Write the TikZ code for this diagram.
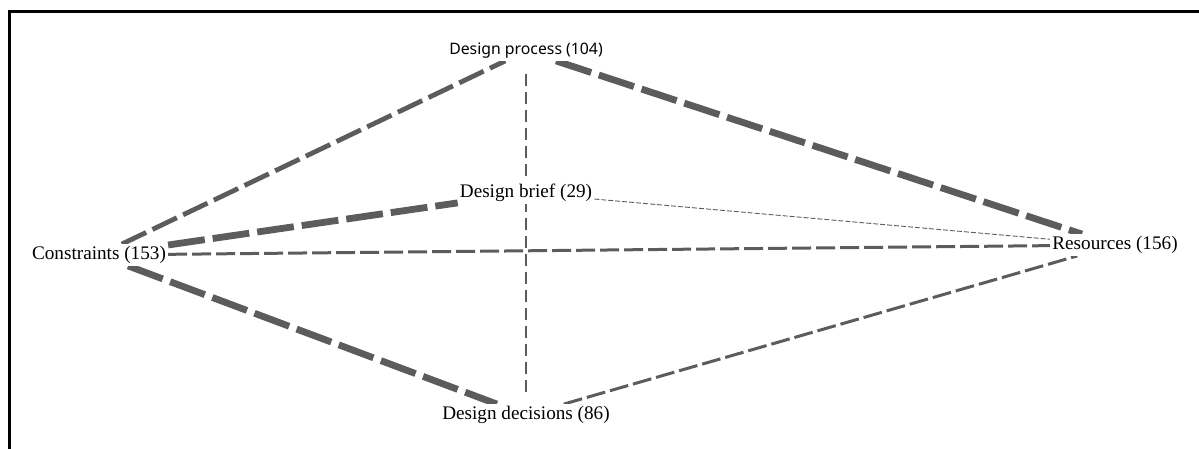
\documentclass[tikz,border=0pt]{standalone}
\usepackage{fontspec}
\setmainfont{Liberation Serif}
\newfontfamily\labelsans{Noto Sans}
\usetikzlibrary{backgrounds,calc}
\definecolor{edgegray}{RGB}{92,92,92}
\tikzset{
  term/.style={font=\fontsize{19.2}{22}\selectfont, inner sep=2pt, fill=white},
  termsans/.style={font=\labelsans\fontsize{15.8}{18}\selectfont, inner sep=2pt, fill=white},
  link/.style={draw=edgegray, line cap=butt},
  heavy/.style={link, line width=6.8pt, dash pattern=on 37pt off 8pt},
  strong/.style={link, line width=4.8pt, dash pattern=on 27pt off 7pt},
  medium/.style={link, line width=3pt, dash pattern=on 19pt off 5pt},
  light/.style={link, line width=1.5pt, dash pattern=on 12pt off 6pt},
  faint/.style={link, line width=0.9pt, dash pattern=on 5pt off 2pt},
}
\begin{document}
\begin{tikzpicture}[x=1pt, y=-1pt]
  \useasboundingbox (0,0) rectangle (1199,449);
  % frame
  \draw[line width=2.6pt, black] (9.7,449) -- (9.7,11.3) -- (1199,11.3);

  % terms
  \node[term] (con) at (99,255) {Constraints (153)};
  \node[termsans] (dp) at (526,51) {Design process (104)};
  \node[term] (db) at (526,193) {Design brief (29)};
  \node[term] (res) at (1115,245) {Resources (156)};
  \node[term] (dd) at (526,415) {Design decisions (86)};

  % co-occurrence links, weight shown by line width
  \begin{scope}[on background layer]
    \draw[light] ($(dp.south)+(0,13)$) -- ($(dd.north)+(0,-9)$);
    \draw[strong] (con) -- (dp);
    \draw[heavy] (dp) -- (res);
    \draw[heavy] (con) -- (db);
    \draw[faint] (db) -- (res);
    \draw[medium] (con) -- (res);
    \draw[heavy] (con) -- (dd);
    \draw[medium] (dd) -- (res);
  \end{scope}
\end{tikzpicture}
\end{document}
